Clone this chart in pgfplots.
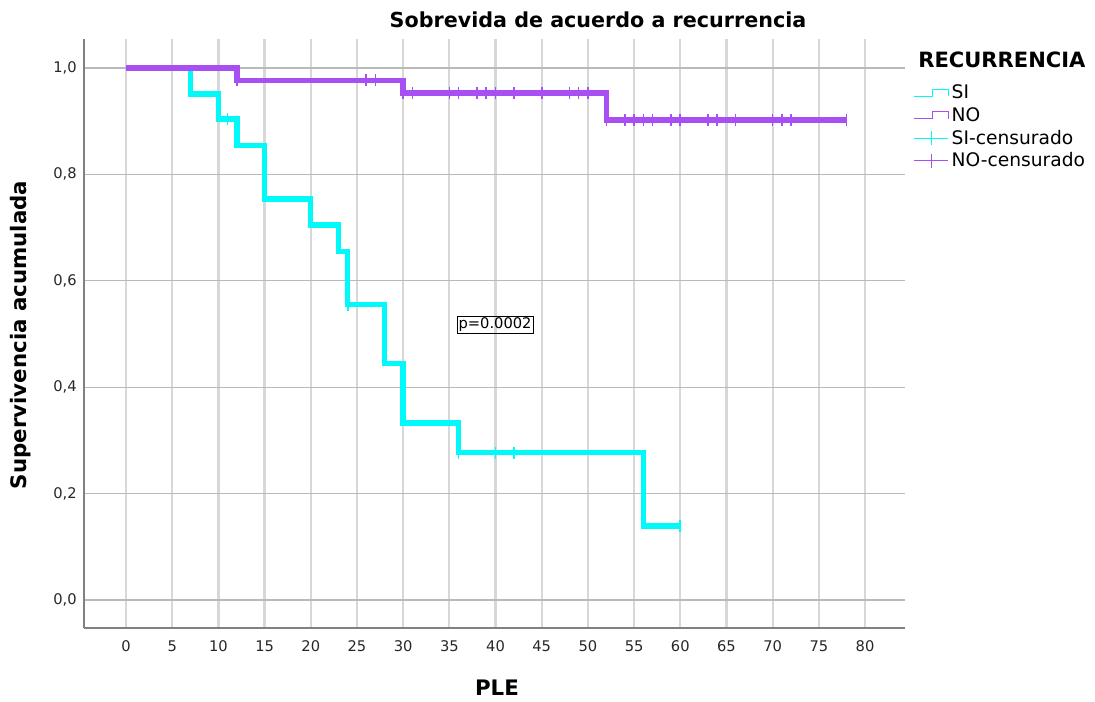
\documentclass[border=0pt]{standalone}
\usepackage{fontspec}
\setmainfont{DejaVu Sans}
\usepackage{pgfplots}
\pgfplotsset{compat=1.18}
\definecolor{siC}{RGB}{0,250,250}
\definecolor{noC}{RGB}{167,79,242}
\definecolor{gridV}{RGB}{215,215,215}
\definecolor{gridH}{RGB}{185,185,185}
\definecolor{axC}{RGB}{128,128,128}
\begin{document}
\begin{tikzpicture}
\begin{axis}[
  at={(0pt,0pt)}, anchor=south west,
  scale only axis, width=615.75pt, height=441.75pt,
  xmin=-4.55, xmax=84.33, ymin=-0.0526, ymax=1.0545,
  axis x line=bottom, axis y line=left,
  axis line style={axC, line width=1.1pt, -},
  xtick={0,5,...,80}, ytick={0,0.2,0.4,0.6,0.8,1.0},
  major tick length=0pt,
  xmajorgrids, ymajorgrids,
  major x grid style={gridV, line width=1.7pt},
  major y grid style={gridH, line width=0.9pt},
  /pgf/number format/assume math mode=true,
  yticklabel style={xshift=-2pt, /pgf/number format/use comma, /pgf/number format/fixed, /pgf/number format/fixed zerofill, /pgf/number format/precision=1},
  ticklabel style={font=\fontsize{11}{13}\selectfont, text=black!85},
  xticklabel style={yshift=-6pt},
  clip=false,
  legend style={at={(1.0097,0.927)}, anchor=north west, draw=none, fill=none,
    font=\fontsize{14}{16}\selectfont, row sep=1pt, inner sep=0pt},
  legend cell align=left,
]
\addplot[siC, line width=4pt, const plot, line join=miter,
  legend image code/.code={\draw[siC, line width=0.8pt] (0pt,-2.6pt) -- (14pt,-2.6pt) -- (14pt,2.6pt) -- (26pt,2.6pt) -- (26pt,-2.6pt);}]
  coordinates {(0,1) (7,0.951) (10,0.904) (12,0.854) (15,0.754) (20,0.705) (23,0.655) (24,0.555) (28,0.444) (30,0.333) (36,0.277) (56,0.139) (60,0.139)};
\addlegendentry{SI}
\addplot[noC, line width=4pt, const plot, line join=miter,
  legend image code/.code={\draw[noC, line width=0.8pt] (0pt,-2.6pt) -- (14pt,-2.6pt) -- (14pt,2.6pt) -- (26pt,2.6pt) -- (26pt,-2.6pt);}]
  coordinates {(0,1) (12,0.977) (30,0.953) (52,0.902) (78,0.902)};
\addlegendentry{NO}
\addplot[only marks, mark=|, mark size=4.6pt, siC, mark options={line width=1.2pt},
  legend image code/.code={\draw[siC, line width=0.8pt] (0pt,0pt) -- (26pt,0pt); \draw[siC, line width=0.8pt] (13pt,-5.5pt) -- (13pt,5.5pt);}]
  coordinates {(11,0.904) (24,0.555) (36,0.277) (40,0.277) (42,0.277) (60,0.139)};
\addlegendentry{SI-censurado}
\addplot[only marks, mark=|, mark size=4.6pt, noC, mark options={line width=1.2pt},
  legend image code/.code={\draw[noC, line width=0.8pt] (0pt,0pt) -- (26pt,0pt); \draw[noC, line width=0.8pt] (13pt,-5.5pt) -- (13pt,5.5pt);}]
  coordinates {(12,0.977) (26,0.977) (27,0.977)
    (30,0.953) (31,0.953) (35,0.953) (36,0.953) (38,0.953) (39,0.953) (40,0.953) (42,0.953) (45,0.953) (48,0.953) (49,0.953) (50,0.953)
    (52,0.902) (54,0.902) (55,0.902) (56,0.902) (57,0.902) (59,0.902) (60,0.902) (63,0.902) (64,0.902) (66,0.902) (70,0.902) (71,0.902) (72,0.902) (78,0.902)};
\addlegendentry{NO-censurado}
\node[draw, line width=0.6pt, inner sep=1.2pt, font=\fontsize{11}{13}\selectfont] at (axis cs:39.95,0.517) {p=0.0002};
\end{axis}
% title, labels, legend title
\node[font=\bfseries\fontsize{15.5}{18}\selectfont] at (385.5pt,456pt) {Sobrevida de acuerdo a recurrencia};
\node[font=\bfseries\fontsize{16}{18}\selectfont, rotate=90] at (-47.25pt,219.75pt) {Supervivencia acumulada};
\node[font=\bfseries\fontsize{16}{18}\selectfont] at (309.75pt,-45pt) {PLE};
\node[font=\bfseries\fontsize{15.8}{18}\selectfont, anchor=west, inner sep=0pt] at (625.5pt,426pt) {RECURRENCIA};
\path[use as bounding box] (-63pt,-55.5pt) rectangle (758.25pt,471pt);
\end{tikzpicture}
\end{document}
